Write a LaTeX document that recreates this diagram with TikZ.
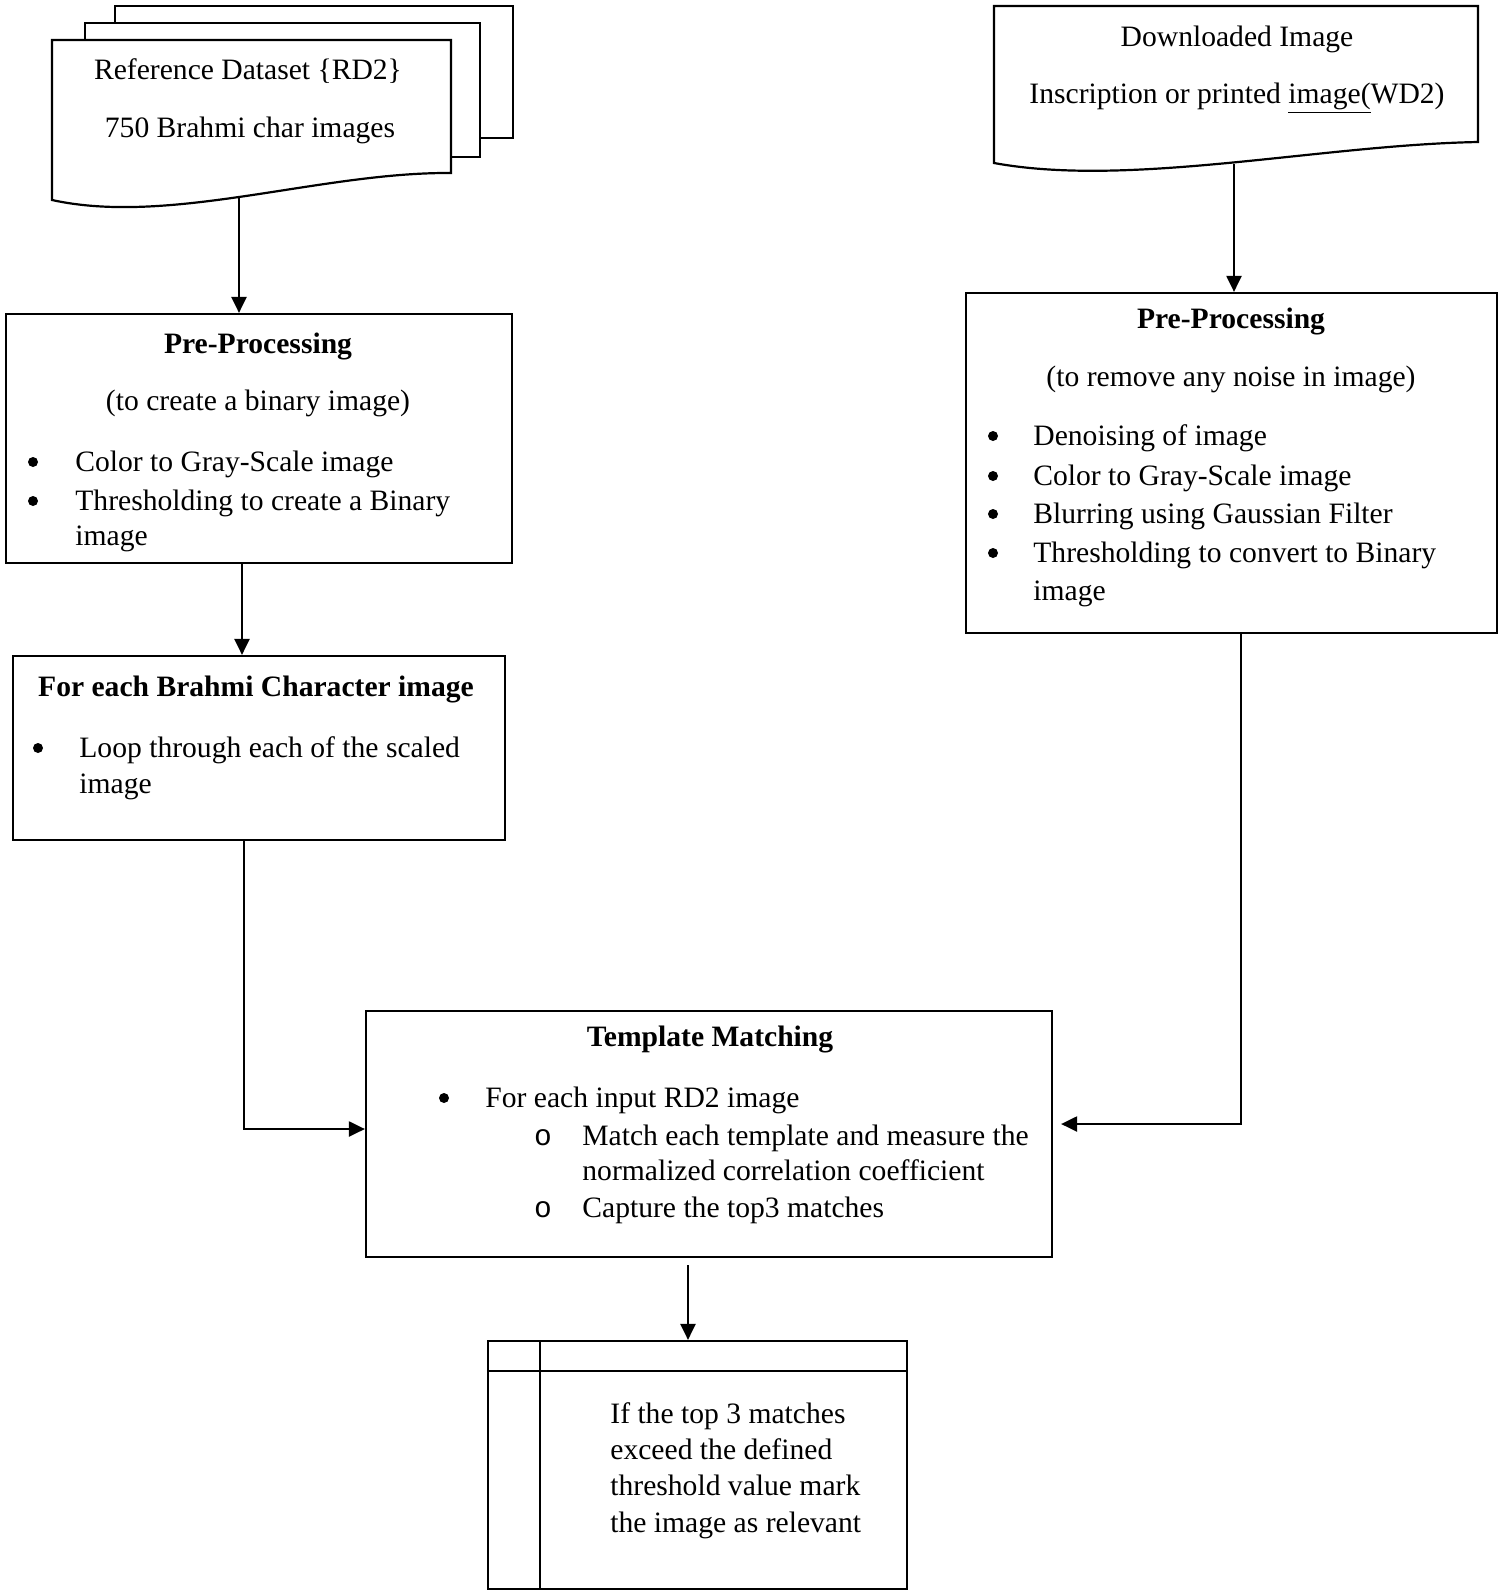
\documentclass[tikz,border=0pt]{standalone}
\usepackage{fontspec}
\setmainfont{Liberation Serif}
\newfontfamily\monof{Liberation Mono}
\usetikzlibrary{arrows.meta,calc,fit}
\begin{document}
\begin{tikzpicture}[x=0.5pt,y=-0.5pt,
  font=\fontsize{14.8}{17}\selectfont,
  box/.style={draw,line width=1.1pt,inner sep=0pt},
  txt/.style={inner sep=0pt},
  ctr/.style={txt,anchor=base},
  lft/.style={txt,anchor=base west},
  bul/.style={txt,anchor=base},
  dot/.style={circle,fill=black,inner sep=0pt,minimum size=5pt},
  arr/.style={line width=1.1pt,-{Triangle[length=8pt,width=7.5pt]}},
  ln/.style={line width=1.1pt}]
\useasboundingbox (0,0) rectangle (1504,1596);

% ---- left document stack
\draw[ln] (115,23) -- (115,6) -- (513,6) -- (513,138) -- (480,138);
\draw[ln] (85,40) -- (85,23) -- (480,23) -- (480,157) -- (451,157);
\draw[ln,fill=white] (52,40) -- (451,40) -- (451,173) .. controls (320,172) and (170,226) .. (52,200) -- cycle;
\node[ctr] (rd1) at (248,79) {Reference Dataset \{RD2\}};
\node[ctr] (rd2) at (250,137) {750 Brahmi char images};
\coordinate (docLout) at (239,196);

% ---- right document
\draw[ln,fill=white] (994,6) -- (1478,6) -- (1478,142) .. controls (1320,145) and (1130,188) .. (994,163) -- cycle;
\node[ctr] (dl1) at (1237,46) {Downloaded Image};
\node[ctr] (dl2) at (1237,103) {Inscription or printed \underline{image(}WD2)};
\coordinate (docRout) at (1234,164);

% ---- left pre-processing
\node[box,fit={(6,314) (512,563)}] (preL) {};
\node[ctr] (pl1) at (258,353) {\bfseries Pre-Processing};
\node[ctr] (pl2) at (258,410) {(to create a binary image)};
\node[dot] (plb1) at (33,462) {};
\node[lft] (pl3) at (75,471) {Color to Gray-Scale image};
\node[dot] (plb2) at (33,501) {};
\node[lft] (pl4) at (75,510) {Thresholding to create a Binary};
\node[lft] (pl5) at (75,545) {image};

% ---- for each box
\node[box,fit={(13,656) (505,840)}] (fe) {};
\node[ctr] (fe1) at (256,696) {\bfseries For each Brahmi Character image};
\node[dot] (feb1) at (38,748) {};
\node[lft] (fe2) at (79,757) {Loop through each of the scaled};
\node[lft] (fe3) at (79,793) {image};

% ---- right pre-processing
\node[box,fit={(966,293) (1497,633)}] (preR) {};
\node[ctr] (pr1) at (1231,328) {\bfseries Pre-Processing};
\node[ctr] (pr2) at (1231,386) {(to remove any noise in image)};
\node[dot] (prb1) at (993,436) {};
\node[lft] (pr3) at (1033,445) {Denoising of image};
\node[dot] (prb2) at (993,476) {};
\node[lft] (pr4) at (1033,485) {Color to Gray-Scale image};
\node[dot] (prb3) at (993,514) {};
\node[lft] (pr5) at (1033,523) {Blurring using Gaussian Filter};
\node[dot] (prb4) at (993,553) {};
\node[lft] (pr6) at (1033,562) {Thresholding to convert to Binary};
\node[lft] (pr7) at (1033,600) {image};

% ---- template matching
\node[box,fit={(366,1011) (1052,1257)}] (tm) {};
\node[ctr] (tm1) at (710,1046) {\bfseries Template Matching};
\node[dot] (tmb1) at (444,1098) {};
\node[lft] (tm2) at (485,1107) {For each input RD2 image};
\node[bul] (tmb2) at (543,1145) {\monof o};
\node[lft] (tm3) at (582,1145) {Match each template and measure the};
\node[lft] (tm4) at (582,1180) {normalized correlation coefficient};
\node[bul] (tmb3) at (543,1217) {\monof o};
\node[lft] (tm5) at (582,1217) {Capture the top3 matches};

% ---- result box
\node[box,fit={(488,1341) (907,1589)}] (res) {};
\draw[ln] (res.west |- 0,1371) -- (res.east |- 0,1371);
\draw[ln] (540,1341) -- (540,1589);
\node[lft] (rs1) at (610,1423) {If the top 3 matches};
\node[lft] (rs2) at (610,1459) {exceed the defined};
\node[lft] (rs3) at (610,1495) {threshold value mark};
\node[lft] (rs4) at (610,1532) {the image as relevant};

% ---- connectors
\coordinate (xA) at (242,0);
\coordinate (jL) at (244,1129);
\coordinate (jR) at (1241,1124);
\coordinate (xB) at (688,0);
\draw[arr] (docLout) -- (docLout |- preL.north);
\draw[arr] (xA |- preL.south) -- (xA |- fe.north);
\draw[arr] (jL |- fe.south) -- (jL) -- (jL -| tm.west);
\draw[arr] (docRout) -- (docRout |- preR.north);
\draw[arr] (jR |- preR.south) -- (jR) -- ([xshift=4pt]jR -| tm.east);
\draw[arr] ([yshift=-3.5pt]xB |- tm.south) -- (xB |- res.north);
\end{tikzpicture}
\end{document}
